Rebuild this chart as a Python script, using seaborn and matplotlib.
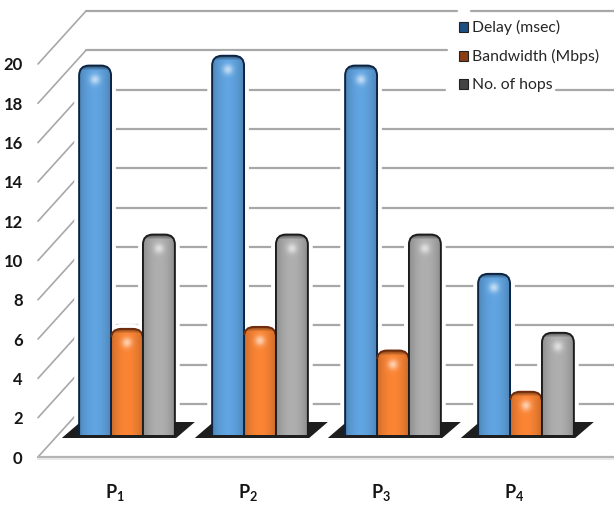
import numpy as np
import pandas as pd
import matplotlib
matplotlib.use('Agg')
import matplotlib.pyplot as plt
import matplotlib.patheffects as pe
from matplotlib.patches import FancyBboxPatch, Patch, Polygon, Rectangle
import seaborn as sns

# Values
paths = ['P$_1$', 'P$_2$', 'P$_3$', 'P$_4$']
delay = [18.8, 19.3, 18.8, 8.2]
bandwidth = [5.4, 5.5, 4.3, 2.2]
hops = [10.2, 10.2, 10.2, 5.2]
series_names = ['Delay (msec)', 'Bandwidth (Mbps)', 'No. of hops']
y_ticks = list(range(0, 21, 2))

colors = ['#5b9bd5', '#ed7d31', '#a5a5a5']
edges = ['#0c2444', '#6e2c0c', '#1c1c1c']
legend_colors = ['#1d4f80', '#8a3c14', '#444444']
grid_color = '#a8a8a8'

sns.set_style('white')
plt.rcParams['font.family'] = ['Lato', 'DejaVu Sans']
plt.rcParams['mathtext.default'] = 'regular'

df = pd.DataFrame({
    'path': paths * 3,
    'series': np.repeat(series_names, 4),
    'value': delay + bandwidth + hops,
})

W, H = 614, 509
fig = plt.figure(figsize=(W / 100, H / 100), dpi=100)
# axes box in pixels: front left corner of the floor up to the top of the wall
ax = fig.add_axes([38 / W, (H - 457) / H, (W - 38) / W, (457 - 12) / H])

px_x = 133.0      # pixels per category
px_y = 19.65      # pixels per unit
depth = 22 / px_y  # bars stand this far above the front edge of the floor
wall_dy = 53 / px_y
wall_dx = 48 / px_x

sns.barplot(data=df, x='path', y='value', hue='series', palette=colors,
            width=0.72, gap=0, dodge=True, legend=False, ax=ax, zorder=3)

x0 = -89 / px_x
ax.set_xlim(x0, x0 + (W - 38) / px_x)
ax.set_ylim(-depth, -depth + (457 - 12) / px_y)
xlim, ylim = ax.get_xlim(), ax.get_ylim()


def px2x(p):
    return x0 + (p - 38) / px_x


def wall_line(xa, xb, y):
    ax.plot([xa, xb], [y, y], color=grid_color, lw=1.6, zorder=1, clip_on=False)


# back wall lines and the slanted side lines
wall_x = x0 + wall_dx
for v in y_ticks:
    yb = v - depth + wall_dy
    right = W
    if v == 18:
        right = 447
    if v == 16:
        right = 445
        wall_line(px2x(556), px2x(W), yb)
    if v == 20:
        wall_line(wall_x, px2x(457), yb)
        wall_line(px2x(471), px2x(W), yb)
    else:
        wall_line(wall_x, px2x(right), yb)
    ax.plot([x0, wall_x], [v - depth, yb], color=grid_color, lw=1.2, zorder=1, clip_on=False)

# front edge of the floor
ax.plot([x0, xlim[1]], [-depth, -depth], color='#b4b4b4', lw=1.6, zorder=1, clip_on=False)
ax.plot([x0, xlim[1]], [-depth - 0.12, -depth - 0.12], color='#e8e8e8', lw=1.4, zorder=1, clip_on=False)

# shadow under each group, above the white halo of the bars
for i in range(len(paths)):
    y1, y2 = -3 / px_y, 13 / px_y
    ax.add_patch(Polygon([(i - 0.49, y1), (i + 0.37, y1), (i + 0.51, y2), (i - 0.35, y2)],
                         closed=True, facecolor='#1e1e1e', edgecolor='none', zorder=3.25))

# swap the flat bars for rounded shaded ones
radius = 10 / px_x
aspect = px_x / px_y
sink = 1.0  # rounded foot goes below the floor and gets clipped, so the base is flat
for k, (container, col, edge) in enumerate(zip(ax.containers, colors, edges)):
    base = np.array(matplotlib.colors.to_rgb(col))
    for bar in container:
        bx, bw, bh = bar.get_x(), bar.get_width(), bar.get_height()
        bar.set_visible(False)
        box = FancyBboxPatch((bx, -sink), bw, bh + sink,
                             boxstyle=f'round,pad=0,rounding_size={radius}',
                             mutation_aspect=aspect, facecolor=col, edgecolor='none',
                             lw=0, zorder=3.2)
        box.set_path_effects([pe.withStroke(linewidth=7, foreground='white')])
        ax.add_patch(box)
        box.set_clip_path(Rectangle((bx - 0.1, 0), bw + 0.2, bh + 1, transform=ax.transData))

        nx, ny = 32, max(int(bh * px_y), 4)
        u = np.linspace(-1, 1, nx)[None, :]
        d = np.linspace(0, bh * px_y, ny)[:, None]  # pixels below the top
        shade = 0.86 + 0.20 * (1 - u ** 2)
        img = base[None, None, :] * shade[:, :, None]
        glow = np.exp(-(u / 0.32) ** 2) * np.exp(-((d - 14) / 5.0) ** 2)
        img = img + (1 - img) * glow[:, :, None] * 0.6
        top = np.clip(d / 5.0, 0, 1)
        img = img * (0.45 + 0.55 * top)[:, :, None]
        im = ax.imshow(np.clip(img, 0, 1), extent=(bx, bx + bw, 0, bh), origin='upper',
                       aspect='auto', zorder=3.3, interpolation='bilinear')
        im.set_clip_path(box)

        # outline on top of the shading; the orange bars only have it along the top
        line = FancyBboxPatch((bx, -sink), bw, bh + sink,
                              boxstyle=f'round,pad=0,rounding_size={radius}',
                              mutation_aspect=aspect, facecolor='none', edgecolor=edge,
                              lw=1.4, zorder=3.4)
        ax.add_patch(line)
        floor = bh - 8 / px_y if k == 1 else 0
        line.set_clip_path(Rectangle((bx - 0.1, floor), bw + 0.2, bh + 1 - floor,
                                     transform=ax.transData))

ax.set_xlim(xlim)
ax.set_ylim(ylim)

# ticks sit on the front edge of the floor, category labels a bit left of the groups
ax.set_yticks([v - depth for v in y_ticks], [str(v) for v in y_ticks])
ax.set_xticks([i - 12 / px_x for i in range(len(paths))], paths)
ax.tick_params(axis='y', length=0, pad=11, labelsize=12, labelcolor='#151515')
ax.tick_params(axis='x', length=0, pad=18, labelsize=13, labelcolor='#151515')
for lab in ax.get_xticklabels() + ax.get_yticklabels():
    lab.set_fontweight('bold')
ax.set_xlabel('')
ax.set_ylabel('')
sns.despine(ax=ax, left=True, bottom=True)

handles = [Patch(facecolor=c, edgecolor='#222222', lw=0.8) for c in legend_colors]
leg = ax.legend(handles, series_names, loc='upper left',
                bbox_to_anchor=(459 / W, (H - 20) / H),
                bbox_transform=fig.transFigure, frameon=False, fontsize=11.3,
                handlelength=0.6, handleheight=0.6, handletextpad=0.2,
                labelspacing=0.9, borderaxespad=0, borderpad=0)
leg.set_zorder(6)

fig.savefig('out.png', dpi=100, facecolor='white')
